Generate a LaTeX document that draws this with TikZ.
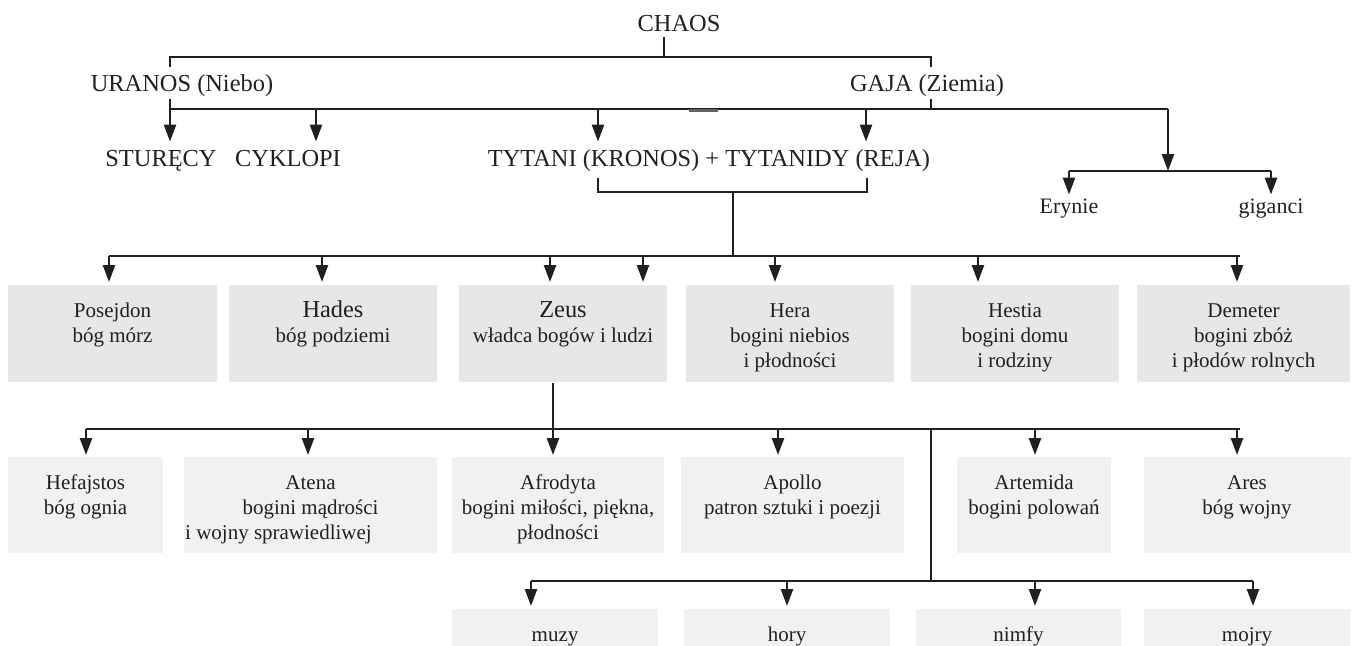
\documentclass[tikz,border=0pt]{standalone}
\usepackage{fontspec}
\setmainfont{Liberation Serif}
\usetikzlibrary{arrows.meta}
\definecolor{ink}{HTML}{231F20}
\definecolor{boxdark}{HTML}{E6E7E8}
\definecolor{boxlight}{HTML}{F1F1F2}
\newcommand{\godtxt}[3]{\parbox[c][#2pt][t]{#1pt}{\centering\rule{0pt}{16pt}#3}}
\newcommand{\bigname}[1]{{\fontsize{12.2}{12.5}\selectfont #1}}
\tikzset{
  link/.style={draw=ink, line width=1.25pt},
  arr/.style={link, -{Triangle[length=8.5pt,width=6pt]}},
  lbl/.style={inner sep=0pt, text height=9pt, text depth=3pt, text=ink, font=\fontsize{12.2}{14}\selectfont},
  small/.style={lbl, font=\fontsize{11}{13}\selectfont},
  upbox/.style={fill=boxdark, inner sep=0pt, anchor=north, text=ink, font=\fontsize{10.5}{12.5}\selectfont},
  lowbox/.style={upbox, fill=boxlight}
}
\begin{document}
\begin{tikzpicture}[x=0.5pt, y=-0.5pt]
		\useasboundingbox (0,0) rectangle (1356,645);
		\clip (0,0) rectangle (1356,645);
		\node[lbl] (chaos) at (679,25) {CHAOS};
		\node[lbl] (uranos) at (182,85) {URANOS (Niebo)};
		\node[lbl] (gaja) at (927,85) {GAJA (Ziemia)};
		\node[lbl] (sturecy) at (161,160) {STURĘCY};
		\node[lbl] (cyklopi) at (288,160) {CYKLOPI};
		\node[lbl] (titans) at (709,160) {TYTANI (KRONOS) + TYTANIDY (REJA)};
		\node[small] (erynie) at (1069,207) {Erynie};
		\node[small] (giganci) at (1271,207) {giganci};
		\node[upbox] (posejdon) at (112.5,285) {\godtxt{104.5}{48.5}{Posejdon\\bóg mórz}};
		\node[upbox] (hades) at (333,285) {\godtxt{104}{48.5}{\bigname{Hades}\\bóg podziemi}};
		\node[upbox] (zeus) at (563,285) {\godtxt{104}{48.5}{\bigname{Zeus}\\władca bogów i ludzi}};
		\node[upbox] (hera) at (790,285) {\godtxt{104}{48.5}{Hera\\bogini niebios\\i płodności}};
		\node[upbox] (hestia) at (1015,285) {\godtxt{104}{48.5}{Hestia\\bogini domu\\i rodziny}};
		\node[upbox] (demeter) at (1243.5,285) {\godtxt{106.5}{48.5}{Demeter\\bogini zbóż\\i płodów rolnych}};
		\node[lowbox] (hefajstos) at (85.5,457) {\godtxt{77.5}{48}{Hefajstos\\bóg ognia}};
		\node[lowbox] (atena) at (310.5,457) {\godtxt{126.5}{48}{Atena\\bogini mądrości\\i wojny sprawiedliwej\hspace*{32pt}}};
		\node[lowbox] (afrodyta) at (558,457) {\godtxt{106}{48}{Afrodyta\\bogini miłości, piękna,\\płodności}};
		\node[lowbox] (apollo) at (792.5,457) {\godtxt{111.5}{48}{Apollo\\patron sztuki i poezji}};
		\node[lowbox] (artemida) at (1034,457) {\godtxt{77}{48}{Artemida\\bogini polowań}};
		\node[lowbox] (ares) at (1247,457) {\godtxt{103}{48}{Ares\\bóg wojny}};
		\node[lowbox] (muzy) at (555,609) {\godtxt{103}{48}{muzy}};
		\node[lowbox] (hory) at (787,609) {\godtxt{103}{48}{hory}};
		\node[lowbox] (nimfy) at (1018.5,609) {\godtxt{102.5}{48}{nimfy}};
		\node[lowbox] (mojry) at (1247,609) {\godtxt{103}{48}{mojry}};
		\coordinate (chaosfoot) at (664,57);
		\coordinate (uranosleg) at (170,57);
		\coordinate (gajaleg) at (931,57);
		\coordinate (ubar) at (170,109);
		\coordinate (gbar) at (931,109);
		\coordinate (gigfork) at (1168,109);
		\coordinate (gigbar) at (1168,171);
		\coordinate (tbl) at (598,192);
		\coordinate (tbr) at (867,192);
		\coordinate (tstem) at (733,192);
		\coordinate (godsL) at (109,256);
		\coordinate (godsR) at (1240,256);
		\coordinate (zeusfoot) at (553,429);
		\coordinate (kidsL) at (86,429);
		\coordinate (kidsR) at (1240,429);
		\coordinate (nymphtop) at (931,429);
		\coordinate (nymphL) at (531,581);
		\coordinate (nymphR) at (1253,581);
		\draw[link] (chaos.south -| chaosfoot) -- (chaosfoot);
		\draw[link, shorten <=3pt, shorten >=3pt] (uranos.north -| uranosleg) |- (gajaleg) -- (gaja.north -| gajaleg);
		\draw[link, shorten <=1pt] (uranos.south -| ubar) -- (ubar) -- (gigfork);
		\draw[link, shorten <=1pt] (gaja.south -| gbar) -- (gbar);
		\draw[gray!70!ink, line width=1.2pt] (689,110.5) -- (718,110.5);
		\draw[arr, shorten >=3pt] (ubar) -- (sturecy.north -| ubar);
		\draw[arr, shorten >=3pt] (316,109) -- (316,0 |- cyklopi.north);
		\draw[arr, shorten >=3pt] (598,109) -- (598,0 |- titans.north);
		\draw[arr, shorten >=3pt] (866,109) -- (866,0 |- titans.north);
		\draw[arr] (gigfork) -- (gigbar);
		\draw[link] (gigbar -| erynie) -- (gigbar -| giganci);
		\draw[arr] (gigbar -| erynie) -- (erynie.north);
		\draw[arr] (gigbar -| giganci) -- (giganci.north);
		\draw[link, shorten <=3pt, shorten >=3pt] (titans.south -| tbl) -- (tbl) -- (tbr) -- (titans.south -| tbr);
		\draw[link] (tstem) -- (tstem |- godsL);
		\draw[link] (godsL) -- (godsR);
		\foreach \x/\n in {109/posejdon, 322/hades, 550/zeus, 643/zeus, 775/hera, 978/hestia, 1237/demeter}
			\draw[arr, shorten >=1.5pt] (\x,256) -- (\x,0 |- \n.north);
		\draw[link] (zeus.south -| zeusfoot) -- (zeusfoot);
		\draw[link] (kidsL) -- (kidsR);
		\foreach \x/\n in {86/hefajstos, 308/atena, 553/afrodyta, 778/apollo, 1035/artemida, 1237/ares}
			\draw[arr, shorten >=1pt] (\x,429) -- (\x,0 |- \n.north);
		\draw[link] (nymphtop) -- (nymphtop |- nymphL);
		\draw[link] (nymphL) -- (nymphR);
		\foreach \x/\n in {531/muzy, 787/hory, 1035/nimfy, 1253/mojry}
			\draw[arr, shorten >=1.5pt] (\x,581) -- (\x,0 |- \n.north);
\end{tikzpicture}
\end{document}
